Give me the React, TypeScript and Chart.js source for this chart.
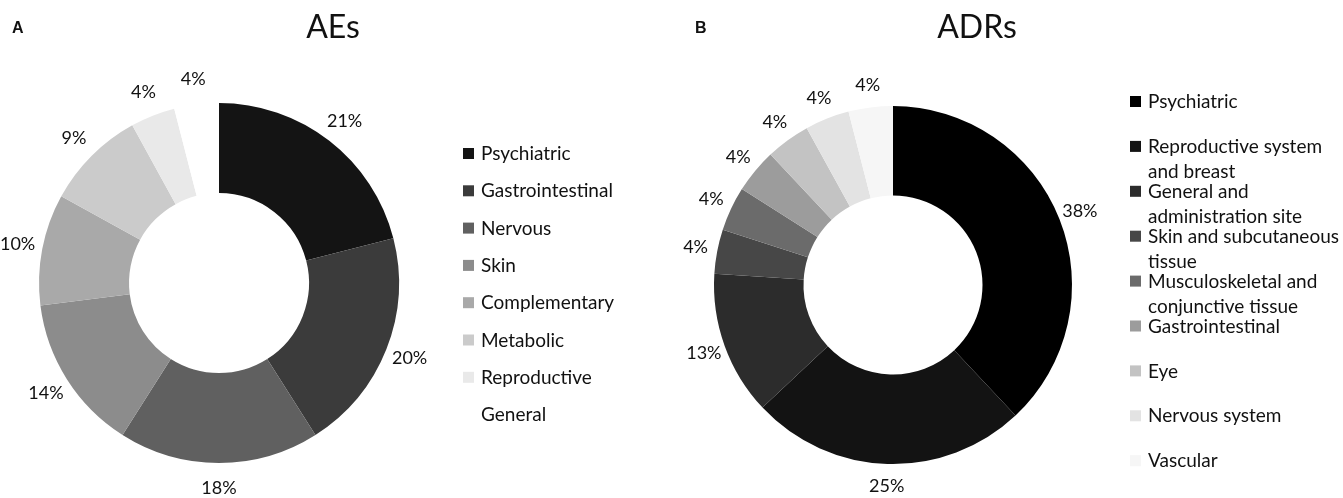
import React, { useEffect, useRef } from "react";
import { Chart, registerables } from "chart.js";

Chart.register(...registerables);

// ---------- Data ----------
const aesLabels: (string | string[])[] = [
  "Psychiatric",
  "Gastrointestinal",
  "Nervous",
  "Skin",
  "Complementary",
  "Metabolic",
  "Reproductive",
  "General",
];
const aesValues = [21, 20, 18, 14, 10, 9, 4, 4];
const aesColors = ["#141414", "#3b3b3b", "#606060", "#8c8c8c", "#a9a9a9", "#cbcbcb", "#e9e9e9", "#ffffff"];

const adrLabels: (string | string[])[] = [
  "Psychiatric",
  ["Reproductive system", "and breast"],
  ["General and", "administration site"],
  ["Skin and subcutaneous", "tissue"],
  ["Musculoskeletal and", "conjunctive tissue"],
  "Gastrointestinal",
  "Eye",
  "Nervous system",
  "Vascular",
];
const adrValues = [38, 25, 13, 4, 4, 4, 4, 4, 4];
const adrColors = ["#000000", "#131313", "#2c2c2c", "#474747", "#6b6b6b", "#9c9c9c", "#c3c3c3", "#e3e3e3", "#f6f6f6"];

const FONT = "Lato, 'Open Sans', sans-serif";

const decorPlugin = {
  id: "decor",
  afterDraw(chart: any, _args: any, opts: any) {
    const ctx: CanvasRenderingContext2D = chart.ctx;
    const meta = chart.getDatasetMeta(0);
    const values: number[] = chart.data.datasets[0].data;
    const colors: string[] = chart.data.datasets[0].backgroundColor;
    const labels: (string | string[])[] = chart.data.labels;
    const total = values.reduce((a, b) => a + b, 0);
    ctx.save();
    // percentage labels
    ctx.fillStyle = "#111";
    ctx.font = `18px ${FONT}`;
    ctx.textAlign = "center";
    ctx.textBaseline = "middle";
    meta.data.forEach((arc: any, i: number) => {
      const p = arc.getProps(["x", "y", "startAngle", "endAngle", "outerRadius"], true);
      const mid = (p.startAngle + p.endAngle) / 2;
      const r = p.outerRadius + opts.labelOffset;
      const pct = Math.round((values[i] / total) * 100) + "%";
      ctx.fillText(pct, p.x + Math.cos(mid) * r, p.y + Math.sin(mid) * r);
    });
    // legend
    ctx.textAlign = "left";
    ctx.font = `19px ${FONT}`;
    let y = opts.legendY;
    labels.forEach((lab, i) => {
      const lines = Array.isArray(lab) ? lab : [lab];
      ctx.fillStyle = colors[i];
      ctx.fillRect(opts.legendX, y - 6, 11, 11);
      ctx.fillStyle = "#111";
      lines.forEach((ln, k) => {
        ctx.fillText(ln, opts.legendX + 18, y + k * opts.lineStep);
      });
      y += opts.entryStep;
    });
    // title
    ctx.textAlign = "center";
    ctx.textBaseline = "alphabetic";
    ctx.font = `32px ${FONT}`;
    ctx.fillStyle = "#111";
    ctx.fillText(opts.title, opts.titleX, 38);
    // panel letter
    ctx.textAlign = "left";
    ctx.font = "bold 16px 'Liberation Sans', Arial, sans-serif";
    ctx.fillText(opts.letter, opts.letterX, 33);
    ctx.restore();
  },
};

function Donut(props: {
  labels: (string | string[])[];
  values: number[];
  colors: string[];
  width: number;
  left: number;
  padding: any;
  decor: any;
}) {
  const ref = useRef<HTMLCanvasElement>(null);
  useEffect(() => {
    if (!ref.current) return;
    const chart = new Chart(ref.current, {
      type: "doughnut",
      data: {
        labels: props.labels as any,
        datasets: [
          {
            data: props.values,
            backgroundColor: props.colors,
            borderWidth: 0,
          },
        ],
      },
      options: {
        animation: false,
        responsive: false,
        cutout: "50%",
        layout: { padding: props.padding },
        plugins: {
          legend: { display: false },
          tooltip: { enabled: false },
          title: { display: false },
          decor: props.decor,
        } as any,
      },
      plugins: [decorPlugin as any],
    });
    return () => chart.destroy();
  }, []);
  return (
    <canvas
      ref={ref}
      width={props.width}
      height={498}
      style={{ position: "absolute", left: props.left, top: 0, width: props.width, height: 498 }}
    />
  );
}

export default function App() {
  return (
    <div style={{ position: "absolute", left: 0, top: 0, width: 1343, height: 498, background: "#fff" }}>
      <Donut
        labels={aesLabels}
        values={aesValues}
        colors={aesColors}
        width={660}
        left={0}
        padding={{ left: 39, top: 103, right: 261, bottom: 35 }}
        decor={{
          labelOffset: 25,
          legendX: 463,
          legendY: 154,
          entryStep: 37.3,
          lineStep: 25,
          title: "AEs",
          titleX: 333,
          letter: "A",
          letterX: 12,
        }}
      />
      <Donut
        labels={adrLabels}
        values={adrValues}
        colors={adrColors}
        width={683}
        left={660}
        padding={{ left: 54, top: 106, right: 271, bottom: 34 }}
        decor={{
          labelOffset: 22,
          legendX: 470,
          legendY: 102,
          entryStep: 44.9,
          lineStep: 25,
          title: "ADRs",
          titleX: 317,
          letter: "B",
          letterX: 35,
        }}
      />
    </div>
  );
}
